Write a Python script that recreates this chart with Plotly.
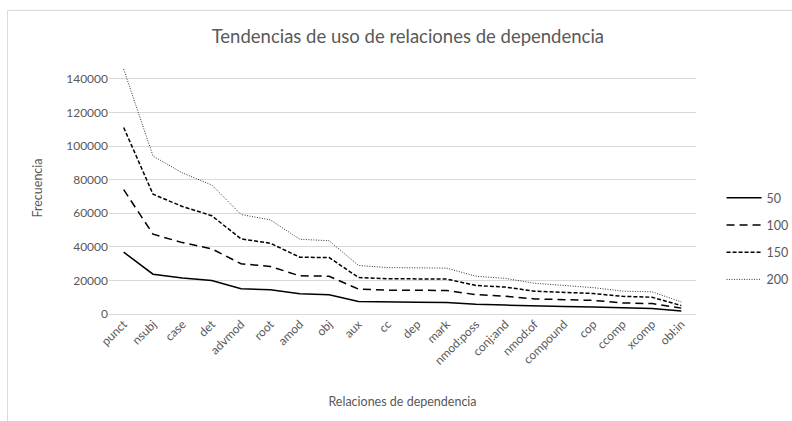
import plotly.graph_objects as go

categories = ["punct", "nsubj", "case", "det", "advmod", "root", "amod", "obj", "aux", "cc",
              "dep", "mark", "nmod:poss", "conj:and", "nmod:of", "compound", "cop", "ccomp",
              "xcomp", "obl:in"]

s50 = [36800, 23700, 21500, 19900, 15000, 14400, 12000, 11400, 7500, 7100,
       7000, 6900, 5800, 5300, 4700, 4500, 4200, 3500, 3200, 1800]
s100 = [74000, 47500, 42500, 38800, 29900, 28300, 22700, 22500, 14800, 14200,
        14100, 14000, 11500, 10600, 9000, 8600, 8100, 6600, 6200, 3500]
s150 = [111000, 71300, 64000, 58500, 44700, 42100, 33800, 33600, 21700, 21000,
        20900, 20800, 17000, 16000, 13600, 13100, 12200, 10500, 10000, 5000]
s200 = [145700, 94000, 84000, 76800, 59200, 56000, 44500, 43600, 28900, 27600,
        27500, 27300, 22500, 21200, 18300, 17200, 15700, 13600, 13200, 7200]

series_names = ["50", "100", "150", "200"]
series_values = [s50, s100, s150, s200]
series_dash = ["solid", "8px,5px", "4px,2px", "1px,1.5px"]
series_width = [1.5, 1.5, 1.5, 1.0]
series_color = ["#000000", "#000000", "#000000", "#333333"]

y_ticks = [0, 20000, 40000, 60000, 80000, 100000, 120000, 140000]

FONT = "Lato, 'Open Sans', sans-serif"
GREY = "#595959"

fig = go.Figure()
for name, vals, dash, w, c in zip(series_names, series_values, series_dash, series_width, series_color):
    fig.add_trace(go.Scatter(
        x=categories, y=vals, mode="lines", name=name, legendgroup=name,
        line=dict(color=c, width=w, dash=dash),
    ))

W, H = 792, 421
L, R, T, B = 108.6, 95.6, 61.7, 106.7
pw, ph = W - L - R, H - T - B

def px_x(p):
    return (p - L) / pw

def px_y(p):
    return (H - B - p) / ph

fig.update_layout(
    width=W, height=H,
    margin=dict(l=L, r=R, t=T, b=B, autoexpand=False),
    paper_bgcolor="white", plot_bgcolor="white",
    font=dict(family=FONT, color=GREY, size=12),
    title=dict(text="Tendencias de uso de relaciones de dependencia",
               x=0.515, xanchor="center", y=1 - 37 / H, yanchor="middle",
               font=dict(size=18.5, color=GREY, family=FONT)),
    showlegend=True,
    legend=dict(x=px_x(722), xanchor="left", y=px_y(183), yanchor="top",
                font=dict(size=12.5, color=GREY, family=FONT),
                tracegroupgap=8, itemwidth=35, bgcolor="rgba(0,0,0,0)"),
    xaxis=dict(
        type="category", showgrid=False, zeroline=False, showline=False,
        ticks="", tickangle=-45, tickfont=dict(size=12, color=GREY),
        range=[-0.5, len(categories) - 0.5],
        title=dict(text="Relaciones de dependencia", font=dict(size=12.5, color=GREY), standoff=30),
    ),
    yaxis=dict(
        range=[0, 150000], tickvals=y_ticks, ticktext=[str(v) for v in y_ticks],
        showgrid=True, gridcolor="#d9d9d9", gridwidth=1, zeroline=True,
        zerolinecolor="#d9d9d9", zerolinewidth=1, showline=False, ticks="",
        tickfont=dict(size=12, color=GREY),
        title=dict(text="Frecuencia", font=dict(size=12.5, color=GREY), standoff=20),
    ),
    shapes=[dict(type="rect", xref="paper", yref="paper",
                 x0=px_x(7), x1=px_x(W + 5), y0=px_y(H + 5), y1=px_y(10),
                 line=dict(color="#d9d9d9", width=1), fillcolor="rgba(0,0,0,0)", layer="below")],
)

fig.write_html("out.html", config={"displayModeBar": False},
               post_script="document.body.style.margin='0px';")
